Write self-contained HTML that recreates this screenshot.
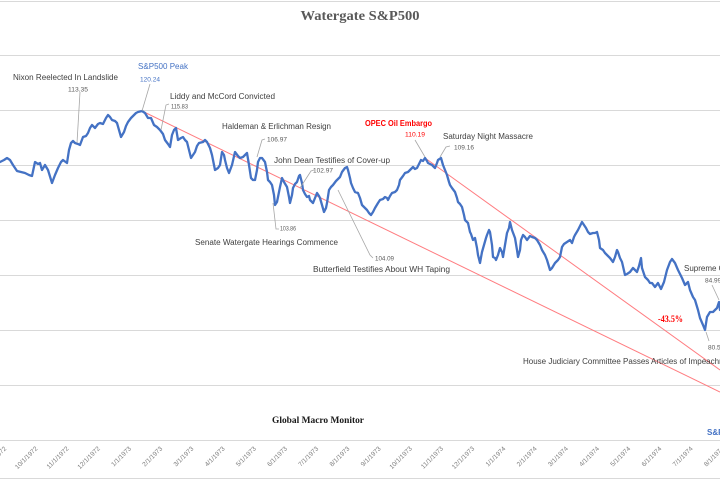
<!DOCTYPE html>
<html><head><meta charset="utf-8"><style>
html,body{margin:0;padding:0;background:#fff;}
svg{display:block;}
.a{font-family:"Liberation Sans",sans-serif;font-size:8px;fill:#404040;}
.v{font-family:"Liberation Sans",sans-serif;font-size:6.5px;fill:#595959;}
.x{font-family:"Liberation Sans",sans-serif;font-size:6.5px;fill:#7f7f7f;}
.l{fill:none;stroke:#a6a6a6;stroke-width:0.8;}
</style></head><body>
<svg width="720" height="480" viewBox="0 0 720 480" xmlns="http://www.w3.org/2000/svg">
<rect width="720" height="480" fill="#fff"/>
<g stroke="#d9d9d9" stroke-width="1">
<line x1="0" y1="1.5" x2="720" y2="1.5"/>
<line x1="0" y1="55.5" x2="720" y2="55.5"/>
<line x1="0" y1="110.5" x2="720" y2="110.5"/>
<line x1="0" y1="165.5" x2="720" y2="165.5"/>
<line x1="0" y1="220.5" x2="720" y2="220.5"/>
<line x1="0" y1="275.5" x2="720" y2="275.5"/>
<line x1="0" y1="330.5" x2="720" y2="330.5"/>
<line x1="0" y1="385.5" x2="720" y2="385.5"/>
<line x1="0" y1="440.5" x2="720" y2="440.5"/>
<line x1="0" y1="478.5" x2="720" y2="478.5"/>
</g>
<text x="360" y="20" text-anchor="middle" font-family="Liberation Serif,serif" font-weight="bold" font-size="14" fill="#595959" textLength="119" lengthAdjust="spacingAndGlyphs">Watergate S&amp;P500</text>
<text x="272" y="423" font-family="Liberation Serif,serif" font-weight="bold" font-size="9.5" fill="#1a1a1a" textLength="92" lengthAdjust="spacingAndGlyphs">Global Macro Monitor</text>

<!-- red trend lines -->
<line x1="142" y1="111" x2="720" y2="392" stroke="#ff7c80" stroke-width="1"/>
<line x1="425" y1="158" x2="720" y2="370" stroke="#ff7c80" stroke-width="1"/>

<!-- series -->
<polyline fill="none" stroke="#4472c4" stroke-width="2.3" stroke-linejoin="round" stroke-linecap="round" points="0,162 4,160 7,158 10,160 13,165 17,171 21,172 25,173 29,175 32,176 35,162 38,164 40,163 42,170 45,165 48,170 52,183 55,175 58,168 61,162 63,160 67,163 69,150 71,143 73,141 75,143 78,144 80,145 83,137 86,136 88,133 90,128 92,125 95,128 98,124 100,123 103,124 106,118 108,115 110,117 112,120 115,121 117,123 119,130 121,137 124,132 126,126 128,122 131,118 133,116 136,113 138,112 142,111 145,113 148,118 151,118 154,125 157,127 160,130 163,134 165,140 168,144 170,147 172,135 174,130 176,128 178,140 181,138 183,137 185,140 187,142 189,150 191,158 193,155 195,152 197,146 199,143 203,142 205,140 207,142 210,148 212,155 214,165 215,170 218,168 220,165 222,152 224,155 225,160 227,168 229,173 232,165 235,152 238,156 240,158 243,157 245,155 247,153 249,165 251,178 253,180 255,180 257,170 258,162 260,158 262,158 265,162 267,172 268,180 270,182 272,185 274,195 275,205 277,202 278,197 280,187 282,178 284,182 287,187 289,197 290,203 292,195 293,188 295,184 297,182 299,176 300,175 302,183 303,190 305,194 307,197 309,196 310,200 313,203 315,198 317,193 319,196 320,198 322,205 324,212 326,208 327,203 329,190 331,187 333,185 336,181 340,177 342,172 345,168 347,167 348,170 350,178 351,183 353,188 355,192 358,193 360,198 362,205 365,208 367,210 369,213 371,215 373,212 375,208 378,203 380,200 383,199 385,197 387,198 388,200 390,196 392,193 395,192 397,190 399,185 400,180 403,176 405,173 408,172 410,170 412,168 413,167 415,169 417,168 419,164 421,160 423,161 425,158 427,161 428,163 430,164 432,165 434,167 435,168 437,163 438,160 441,158 443,165 445,170 447,175 449,182 450,185 452,188 455,192 457,198 458,202 460,204 462,207 464,215 465,220 467,222 468,223 470,232 471,234 473,240 475,238 477,248 478,255 480,263 482,252 484,245 486,238 487,235 489,230 490,232 492,245 493,257 495,258 496,260 498,255 500,248 502,252 503,257 505,245 507,233 509,228 510,222 512,230 515,238 517,250 518,257 520,250 521,240 523,235 525,237 527,240 530,236 532,237 535,238 537,240 540,245 542,250 545,255 547,260 550,270 552,268 555,263 558,260 560,257 562,247 564,244 567,242 570,240 572,243 574,237 575,235 578,230 580,226 582,222 584,225 586,228 588,232 590,234 593,233 595,233 597,232 599,240 600,248 603,250 605,253 607,255 610,258 613,262 615,257 617,250 618,252 620,258 622,262 625,275 627,274 630,272 633,268 635,270 637,272 639,266 641,258 642,268 645,277 648,280 650,283 652,283 655,287 658,283 661,289 664,282 667,270 670,262 672,259 675,263 678,270 682,278 685,285 688,282 690,290 693,297 695,300 698,310 700,318 703,325 705,330 707,317 710,312 713,312 717,308 719,302 720,310"/>

<!-- leader lines -->
<polyline class="l" points="80,92 77,143"/>
<polyline class="l" points="150,84 142,111"/>
<polyline class="l" points="169,104 166,105 161,130"/>
<polyline class="l" points="265,139 262,140 257,157"/>
<polyline class="l" points="314,170 311,171 300,188"/>
<polyline class="l" points="273,203 276,229 279,229"/>
<polyline class="l" points="338,190 370,255 373,258"/>
<polyline class="l" points="415,140 425,157"/>
<polyline class="l" points="450,146 446,147 440,157"/>
<polyline class="l" points="712,285 719,300"/>
<polyline class="l" points="706,332 709,341"/>

<!-- annotations -->
<text class="a" x="13" y="80" textLength="105" lengthAdjust="spacingAndGlyphs">Nixon Reelected In Landslide</text>
<text class="v" x="68" y="91.5" textLength="20" lengthAdjust="spacingAndGlyphs">113.35</text>
<text class="a" x="138" y="69" fill="#4472c4" style="fill:#4472c4" textLength="50" lengthAdjust="spacingAndGlyphs">S&amp;P500 Peak</text>
<text class="v" x="140" y="81.5" style="fill:#4472c4" textLength="20" lengthAdjust="spacingAndGlyphs">120.24</text>
<text class="a" x="170" y="99" textLength="105" lengthAdjust="spacingAndGlyphs">Liddy and McCord Convicted</text>
<text class="v" x="171" y="108.5" textLength="17" lengthAdjust="spacingAndGlyphs">115.83</text>
<text class="a" x="222" y="129" textLength="109" lengthAdjust="spacingAndGlyphs">Haldeman &amp; Erlichman Resign</text>
<text class="v" x="267" y="141.5" textLength="20" lengthAdjust="spacingAndGlyphs">106.97</text>
<text class="a" x="274" y="163" textLength="116" lengthAdjust="spacingAndGlyphs">John Dean Testifies of Cover-up</text>
<text class="v" x="313" y="172.5" textLength="20" lengthAdjust="spacingAndGlyphs">102.97</text>
<text class="v" x="280" y="230.5" textLength="16" lengthAdjust="spacingAndGlyphs">103.86</text>
<text class="a" x="195" y="245" textLength="143" lengthAdjust="spacingAndGlyphs">Senate Watergate Hearings Commence</text>
<text class="v" x="375" y="260.5" textLength="19" lengthAdjust="spacingAndGlyphs">104.09</text>
<text class="a" x="313" y="272" textLength="137" lengthAdjust="spacingAndGlyphs">Butterfield Testifies About WH Taping</text>
<text class="a" x="365" y="126" style="fill:#ff0000;font-weight:bold" textLength="67" lengthAdjust="spacingAndGlyphs">OPEC Oil Embargo</text>
<text class="v" x="405" y="136.5" style="fill:#ff0000" textLength="20" lengthAdjust="spacingAndGlyphs">110.19</text>
<text class="a" x="443" y="139" textLength="90" lengthAdjust="spacingAndGlyphs">Saturday Night Massacre</text>
<text class="v" x="454" y="149.5" textLength="20" lengthAdjust="spacingAndGlyphs">109.16</text>
<text class="a" x="684" y="271">Supreme Court Rules</text>
<text class="v" x="705" y="282.5">84.99</text>
<text x="658" y="322" font-family="Liberation Serif,serif" font-weight="bold" font-size="9" fill="#ff0000" textLength="25" lengthAdjust="spacingAndGlyphs">-43.5%</text>
<text class="v" x="708" y="349.5">80.50</text>
<text class="a" x="523" y="364">House Judiciary Committee Passes Articles of Impeachment</text>
<text class="a" x="707" y="435" style="fill:#4472c4;font-weight:bold">S&amp;P500</text>

<!-- x axis labels -->
<g class="x">
<text transform="translate(6.8,449) rotate(-45)" text-anchor="end">9/1/1972</text>
<text transform="translate(38,449) rotate(-45)" text-anchor="end">10/1/1972</text>
<text transform="translate(69.2,449) rotate(-45)" text-anchor="end">11/1/1972</text>
<text transform="translate(100.4,449) rotate(-45)" text-anchor="end">12/1/1972</text>
<text transform="translate(131.6,449) rotate(-45)" text-anchor="end">1/1/1973</text>
<text transform="translate(162.8,449) rotate(-45)" text-anchor="end">2/1/1973</text>
<text transform="translate(194,449) rotate(-45)" text-anchor="end">3/1/1973</text>
<text transform="translate(225.2,449) rotate(-45)" text-anchor="end">4/1/1973</text>
<text transform="translate(256.4,449) rotate(-45)" text-anchor="end">5/1/1973</text>
<text transform="translate(287.6,449) rotate(-45)" text-anchor="end">6/1/1973</text>
<text transform="translate(318.8,449) rotate(-45)" text-anchor="end">7/1/1973</text>
<text transform="translate(350,449) rotate(-45)" text-anchor="end">8/1/1973</text>
<text transform="translate(381.2,449) rotate(-45)" text-anchor="end">9/1/1973</text>
<text transform="translate(412.4,449) rotate(-45)" text-anchor="end">10/1/1973</text>
<text transform="translate(443.6,449) rotate(-45)" text-anchor="end">11/1/1973</text>
<text transform="translate(474.8,449) rotate(-45)" text-anchor="end">12/1/1973</text>
<text transform="translate(506,449) rotate(-45)" text-anchor="end">1/1/1974</text>
<text transform="translate(537.2,449) rotate(-45)" text-anchor="end">2/1/1974</text>
<text transform="translate(568.4,449) rotate(-45)" text-anchor="end">3/1/1974</text>
<text transform="translate(599.6,449) rotate(-45)" text-anchor="end">4/1/1974</text>
<text transform="translate(630.8,449) rotate(-45)" text-anchor="end">5/1/1974</text>
<text transform="translate(662,449) rotate(-45)" text-anchor="end">6/1/1974</text>
<text transform="translate(693.2,449) rotate(-45)" text-anchor="end">7/1/1974</text>
<text transform="translate(724.4,449) rotate(-45)" text-anchor="end">8/1/1974</text>
</g>
</svg>
</body></html>
